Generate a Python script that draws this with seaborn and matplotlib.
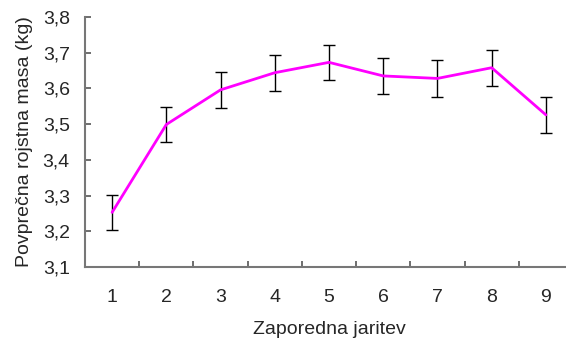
import matplotlib
matplotlib.use("Agg")
import matplotlib.pyplot as plt
from matplotlib.ticker import FuncFormatter, FixedLocator
import seaborn as sns
import pandas as pd

parity = [1, 2, 3, 4, 5, 6, 7, 8, 9]
mean_mass = [3.253, 3.499, 3.596, 3.644, 3.673, 3.635, 3.628, 3.658, 3.526]
err_mass = [0.049, 0.050, 0.051, 0.050, 0.049, 0.050, 0.051, 0.050, 0.050]
y_ticks = [3.1, 3.2, 3.3, 3.4, 3.5, 3.6, 3.7, 3.8]

df = pd.DataFrame({"parity": parity, "mass": mean_mass, "err": err_mass})

sns.set_style("white")
plt.rcParams["font.family"] = ["Liberation Sans", "DejaVu Sans"]

fig = plt.figure(figsize=(5.66, 3.42), dpi=100)
W, H = 566, 342
ax = fig.add_axes([85 / W, 1 - 267 / H, (573 - 85) / W, (267 - 17) / H])

ax.errorbar(df["parity"], df["mass"], yerr=df["err"], fmt="none",
            ecolor="black", elinewidth=1.0, capsize=4.0, capthick=1.0, zorder=2)
sns.lineplot(data=df, x="parity", y="mass", color="#FF00FF", linewidth=2.0,
             ax=ax, zorder=3)

ax.set_xlim(0.5, 9.5)
ax.set_ylim(3.1, 3.8)
ax.set_yticks(y_ticks)
ax.yaxis.set_major_formatter(FuncFormatter(lambda v, p: f"{v:.1f}".replace(".", ",")))

# category boundaries as ticks, labels at centres
ax.xaxis.set_major_locator(FixedLocator([i + 0.5 for i in parity[:-1]] + [9.5]))
ax.xaxis.set_major_formatter(FuncFormatter(lambda v, p: ""))
ax.xaxis.set_minor_locator(FixedLocator(parity))
ax.xaxis.set_minor_formatter(FuncFormatter(lambda v, p: f"{int(round(v))}"))

for s in ["top", "right"]:
    ax.spines[s].set_visible(False)
for s in ["left", "bottom"]:
    ax.spines[s].set_color("#777777")
    ax.spines[s].set_linewidth(1.5)

ax.tick_params(axis="y", which="major", direction="in", length=4, width=1.2,
               color="#555555", labelsize=14, pad=11, left=True)
ax.tick_params(axis="x", which="major", direction="in", length=4, width=1.2,
               color="#555555", bottom=True)
ax.tick_params(axis="x", which="minor", length=0, labelsize=14, pad=16)

ax.set_xlabel("Zaporedna jaritev", fontsize=14, labelpad=11)
ax.set_ylabel("Povprečna rojstna masa (kg)", fontsize=14, labelpad=7)

fig.savefig("out.png", dpi=100)
